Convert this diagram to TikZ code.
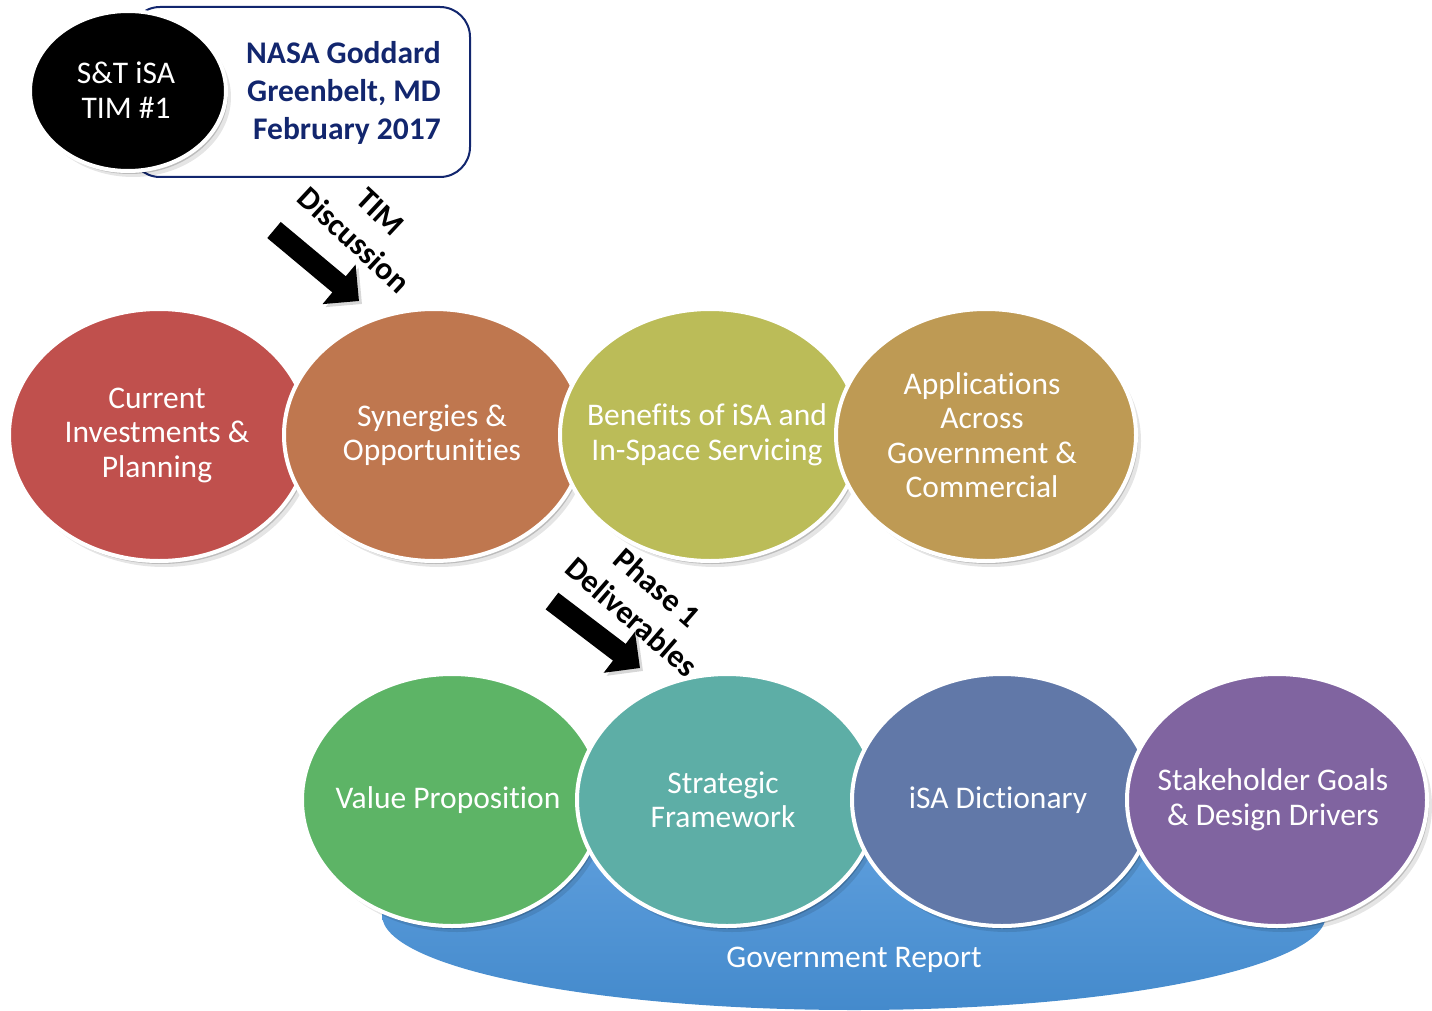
\documentclass[tikz,border=0pt]{standalone}
\usepackage{fontspec}
\setmainfont{Carlito}[Ligatures=NoCommon]
\usetikzlibrary{shapes.geometric,shadows,arrows.meta}
\definecolor{cRed}{RGB}{192,80,77}
\definecolor{cOrange}{RGB}{191,119,79}
\definecolor{cOlive}{RGB}{187,188,88}
\definecolor{cTan}{RGB}{190,154,84}
\definecolor{cGreen}{RGB}{93,180,102}
\definecolor{cTeal}{RGB}{93,174,166}
\definecolor{cSlate}{RGB}{97,120,168}
\definecolor{cPurple}{RGB}{128,100,160}
\definecolor{cNavy}{RGB}{18,38,110}
\definecolor{cBlueTop}{RGB}{96,160,222}
\definecolor{cBlueBot}{RGB}{68,138,204}
\tikzset{
  bigtext/.style={font=\fontsize{31.5}{34.5}\selectfont},
  softshadow/.style={
    drop shadow={shadow xshift=2pt, shadow yshift=-3pt, opacity=0.18, fill=black},
    drop shadow={shadow xshift=5pt, shadow yshift=-6pt, opacity=0.10, fill=black}},
  bubble/.style={ellipse, draw=white, line width=4pt, minimum width=300pt,
    minimum height=252pt, inner sep=0pt, softshadow},
  bubbletext/.style={text=white, align=center, bigtext, inner sep=0pt},
  blockarrow/.style={line width=21pt, black, -{Triangle[length=26pt, width=50pt]},
    preaction={draw=black!45, opacity=0.35, transform canvas={xshift=3pt, yshift=-3pt}}},
  arrowlabel/.style={font=\bfseries\fontsize{32}{39}\selectfont, align=center, inner sep=0pt}
}
\begin{document}
\begin{tikzpicture}[x=1pt,y=-1pt]
\useasboundingbox (0,0) rectangle (1432,1011);

% header
\node[draw=cNavy, line width=2pt, rounded corners=30pt, minimum width=340pt,
  minimum height=170pt, inner sep=0pt] (box) at (300,92) {};
\node[anchor=east, align=right, text=cNavy, inner sep=0pt,
  font=\bfseries\fontsize{31.5}{38}\selectfont] (place) at (441,93)
  {NASA Goddard\\Greenbelt, MD\\February 2017};
\node[ellipse, fill=black, draw=white, line width=4pt, minimum width=196pt,
  minimum height=160pt, inner sep=0pt, softshadow] (tim) at (128,91) {};
\node[bubbletext] (timtext) at (126,90) {S\&T iSA\\TIM \#1};

% top row
\node[bubble, fill=cRed] (c1) at (159,435) {};
\node[bubbletext] (c1t) at (157,435) {Current\\Investments \&\\Planning};
\node[bubble, fill=cOrange] (c2) at (434,435) {};
\node[bubbletext] (c2t) at (432,435) {Synergies \&\\Opportunities};
\node[bubble, fill=cOlive] (c3) at (710,435) {};
\node[bubbletext] (c3t) at (707,435) {Benefits of iSA and\\In-Space Servicing};
\node[bubble, fill=cTan] (c4) at (986,435) {};
\node[bubbletext] (c4t) at (982,435) {Applications\\Across\\Government \&\\Commercial};

% report base
\node[ellipse, minimum width=944pt, minimum height=190pt, inner sep=0pt,
  top color=cBlueTop, bottom color=cBlueBot, draw=none] (report) at (854,915) {};
\node[bubbletext] (reportlabel) at (854,960) {Government Report};

% bottom row
\node[bubble, fill=cGreen] (d1) at (452,800) {};
\node[bubbletext] (d1t) at (448,800) {Value Proposition};
\node[bubble, fill=cTeal] (d2) at (727,800) {};
\node[bubbletext] (d2t) at (723,800) {Strategic\\Framework};
\node[bubble, fill=cSlate] (d3) at (1002,800) {};
\node[bubbletext] (d3t) at (998,800) {iSA Dictionary};
\node[bubble, fill=cPurple] (d4) at (1277,800) {};
\node[bubbletext] (d4t) at (1273,800) {Stakeholder Goals\\\& Design Drivers};

% arrows
\coordinate (a1s) at (274,230);
\coordinate (a1e) at (359,301);
\draw[blockarrow] (a1s) -- (a1e);
\node[arrowlabel, rotate=-43] (lab1) at (367,226) {TIM\\Discussion};

\coordinate (a2s) at (552,601);
\coordinate (a2e) at (640,668);
\draw[blockarrow] (a2s) -- (a2e);
\node[arrowlabel, rotate=-41] (lab2) at (645,602) {Phase 1\\Deliverables};
\end{tikzpicture}
\end{document}
